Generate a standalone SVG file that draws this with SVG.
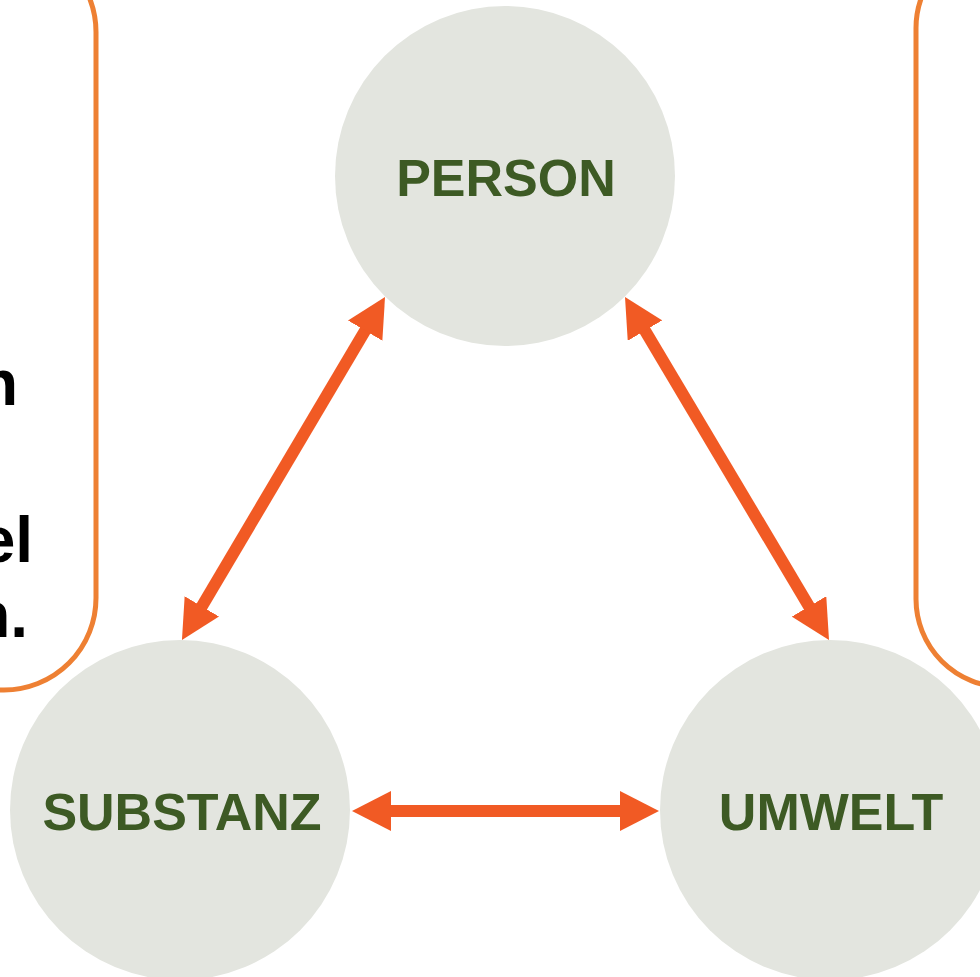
<svg xmlns="http://www.w3.org/2000/svg" width="980" height="977" viewBox="0 0 980 977">
<style>
.box{fill:none;stroke:#ee8033;stroke-width:5}
.circ{fill:#e3e5df}
.lbl{font-family:"Liberation Sans",Arial,sans-serif;font-weight:bold;font-size:52px;fill:#3d5a24;text-anchor:middle}
.side{font-family:"Liberation Sans",Arial,sans-serif;font-weight:bold;font-size:64px;fill:#000;text-anchor:end}
.arr{stroke:#f15a24;stroke-width:12;fill:none;marker-start:url(#ah);marker-end:url(#ah)}
</style>
<defs>
<marker id="ah" markerUnits="userSpaceOnUse" viewBox="0 -20 39 40" markerWidth="39" markerHeight="40" refX="5" refY="0" orient="auto-start-reverse">
<path d="M0,-20 L39,0 L0,20 z" fill="#f15a24"/>
</marker>
</defs>
<g id="left-box">
<rect class="box" x="-400" y="-60" width="496" height="750" rx="92" ry="92"/>
<text class="side" x="18" y="405">n</text>
<text class="side" x="33" y="562">el</text>
<text class="side" x="28" y="637">n.</text>
</g>
<g id="right-box">
<rect class="box" x="916" y="-60" width="400" height="747" rx="88" ry="88"/>
</g>
<g id="person">
<circle class="circ" cx="505" cy="176" r="170"/>
<text class="lbl" x="506" y="196">PERSON</text>
</g>
<g id="substanz">
<circle class="circ" cx="180" cy="810" r="170"/>
<text class="lbl" x="182" y="830">SUBSTANZ</text>
</g>
<g id="umwelt">
<circle class="circ" cx="830" cy="810" r="170"/>
<text class="lbl" x="831" y="830">UMWELT</text>
</g>
<g id="connectors">
<line class="arr" x1="367.7" y1="326.3" x2="199.3" y2="610.7"/>
<line class="arr" x1="642.4" y1="326.3" x2="811.6" y2="610.7"/>
<line class="arr" x1="386" y1="811" x2="625" y2="811"/>
</g>
</svg>
